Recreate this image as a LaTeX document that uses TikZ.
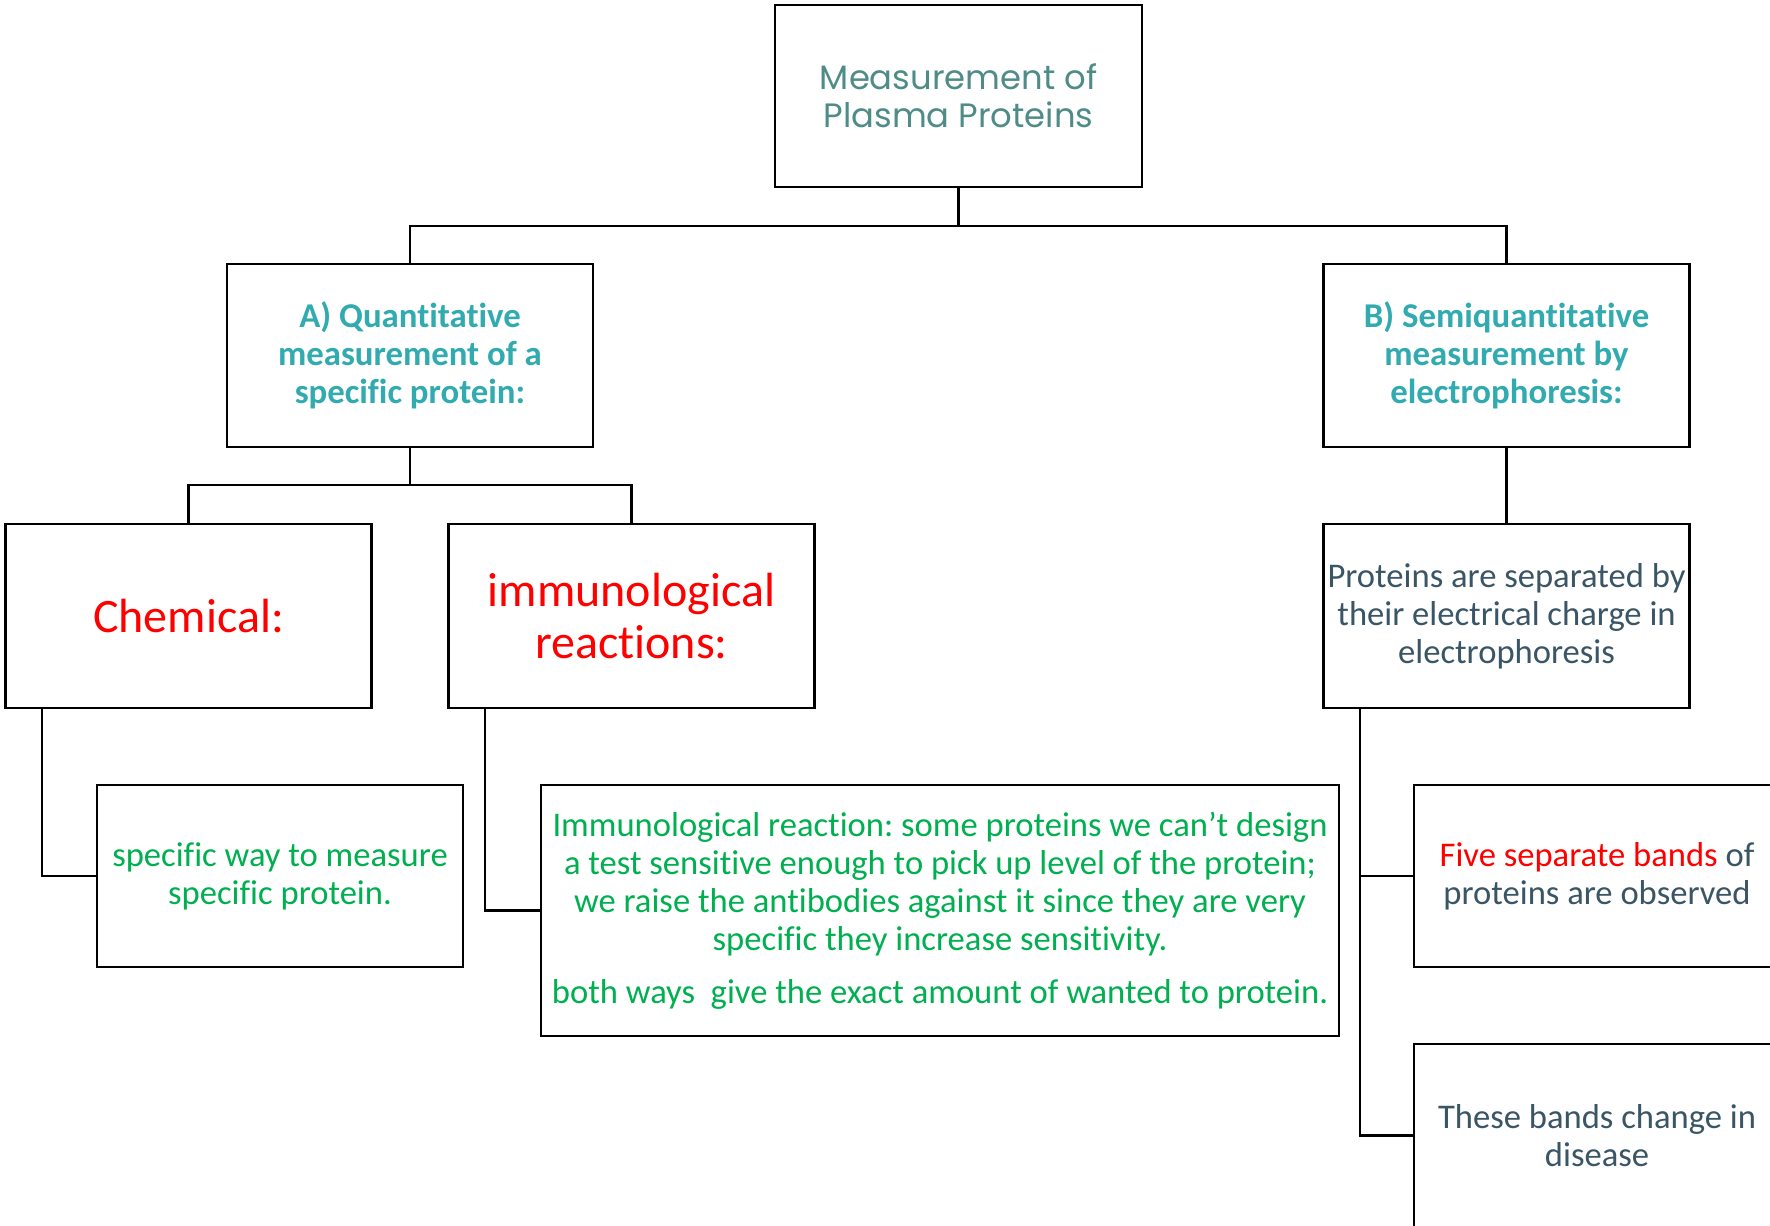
\documentclass[tikz,border=0pt]{standalone}
\usepackage{fontspec}
\setmainfont{Carlito}[Ligatures={NoCommon}]
\newfontfamily\gothic{Poppins}[Ligatures={NoCommon}]
\definecolor{topteal}{HTML}{4F8C88}
\definecolor{headteal}{HTML}{31AAB0}
\definecolor{slate}{HTML}{3A5565}
\definecolor{offgreen}{HTML}{00B050}
\definecolor{offred}{HTML}{FF0000}
\frenchspacing
\begin{document}
\frenchspacing
\begin{tikzpicture}[x=0.5pt,y=-0.5pt,
  box/.style={draw=black, line width=1.4pt, inner sep=0pt, outer sep=0pt, align=center,
              minimum width=183pt, minimum height=91.5pt},
  conn/.style={draw=black, line width=1.4pt},
  toptext/.style={text=topteal, font=\gothic\fontsize{16.9}{19}\selectfont},
  head/.style={text=headteal, font=\bfseries\fontsize{17.4}{19}\selectfont},
  big/.style={text=offred, font=\fontsize{24}{26}\selectfont},
  greentext/.style={text=offgreen, font=\fontsize{17.3}{19}\selectfont},
  slatetext/.style={text=slate, font=\fontsize{17.3}{19}\selectfont}]
\clip (0,0) rectangle (1770,1225);
\fill[white] (0,0) rectangle (1770,1225);

\node[box, toptext, minimum width=183.5pt, minimum height=91pt] (top) at (958.5,96)
  {Measurement of\\Plasma Proteins};
\node[box, head] (A) at (410,355.5)
  {A) Quantitative\\measurement of a\\specific protein:};
\node[box, head] (B) at (1506.5,355.5)
  {B) Semiquantitative\\measurement by\\electrophoresis:};
\node[box, big, minimum height=92pt] (chem) at (188.5,616) {Chemical:};
\node[box, big, minimum height=92pt] (imm) at (631.5,616) {immunological\\reactions:};
\node[box, slatetext, minimum height=92pt] (sep) at (1506.5,616)
  {Proteins are separated by\\their electrical charge in\\electrophoresis};
\node[box, greentext, minimum height=91pt] (spec) at (280,876)
  {specific way to measure\\specific protein.};
\node[box, greentext, minimum width=399pt, minimum height=125.5pt] (immtext) at (940,910.5)
  {Immunological reaction: some proteins we can’t design\\
   a test sensitive enough to pick up level of the protein;\\
   we raise the antibodies against it since they are very\\
   specific they increase sensitivity.\\[7.5pt]
   both ways\ \ give the exact amount of wanted to protein.};
\node[box, slatetext, minimum height=91pt] (five) at (1597,876)
  {{\color{offred}Five separate bands} of\\proteins are observed};
\node[box, slatetext] (these) at (1597,1135.5)
  {These bands change in\\disease};

\coordinate (j1) at (958.5,226);
\coordinate (j2) at (410,485);
\coordinate (c1) at (42,708);
\coordinate (c2) at (485,708);
\coordinate (c3) at (1360,708);

\draw[conn] (top.south) -- (j1) -| (A.north);
\draw[conn] (j1) -| (B.north);
\draw[conn] (A.south) -- (j2) -| (chem.north);
\draw[conn] (j2) -| (imm.north);
\draw[conn] (B.south) -- (sep.north);
\draw[conn] (c1) |- (spec.west);
\draw[conn] (c2) |- (immtext.west);
\draw[conn] (c3) |- (five.west);
\draw[conn] (c3) |- (these.west);
\end{tikzpicture}
\end{document}
